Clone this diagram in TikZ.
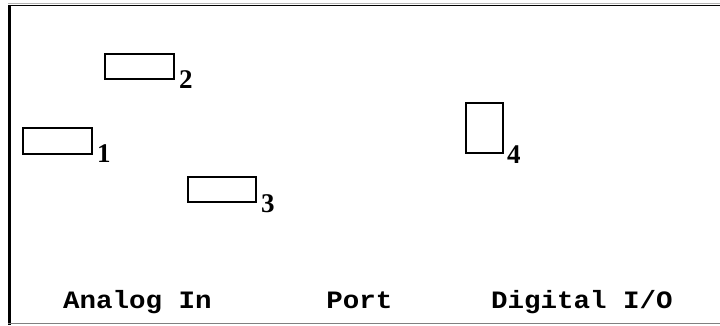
\documentclass[tikz,border=0pt]{standalone}
\usepackage{fontspec}
\newfontfamily\monofont[FakeStretch=1.1]{Liberation Mono}
\newfontfamily\numfont{Liberation Serif}
\begin{document}
\begin{tikzpicture}[x=1pt,y=-1pt,
  slot/.style={draw=black,line width=2pt,inner sep=0pt,fill=white},
  num/.style={font=\numfont\bfseries\fontsize{27}{27}\selectfont,inner sep=0pt,anchor=base west},
  lbltext/.style={font=\monofont\bfseries\fontsize{25}{25}\selectfont,inner sep=0pt,anchor=base}]
\useasboundingbox (0,0) rectangle (720,325);
\fill[white] (0,0) rectangle (720,325);
\draw[black!30,line width=1pt] (8,3.5) -- (720,3.5);
\draw[black,line width=1.5pt] (8,5.5) -- (720,5.5);
\draw[black,line width=3pt] (9.5,5) -- (9.5,325);
\draw[black!50,line width=1pt] (8,323.5) -- (720,323.5);
\node[slot,minimum width=69pt,minimum height=25pt] (b2) at (139.5,66.5) {};
\node[slot,minimum width=69pt,minimum height=26pt] (b1) at (57.5,141) {};
\node[slot,minimum width=68pt,minimum height=25pt] (b3) at (222,189.5) {};
\node[slot,minimum width=37pt,minimum height=50pt] (b4) at (484.5,128) {};
\node[num] (n2) at (179,88) {2};
\node[num] (n1) at (97,162) {1};
\node[num] (n3) at (261,212) {3};
\node[num] (n4) at (507,163) {4};
\node[lbltext] (t1) at (137.5,308) {Analog In};
\node[lbltext] (t2) at (359.5,308) {Port};
\node[lbltext] (t3) at (582,308) {Digital I/O};
\end{tikzpicture}
\end{document}
